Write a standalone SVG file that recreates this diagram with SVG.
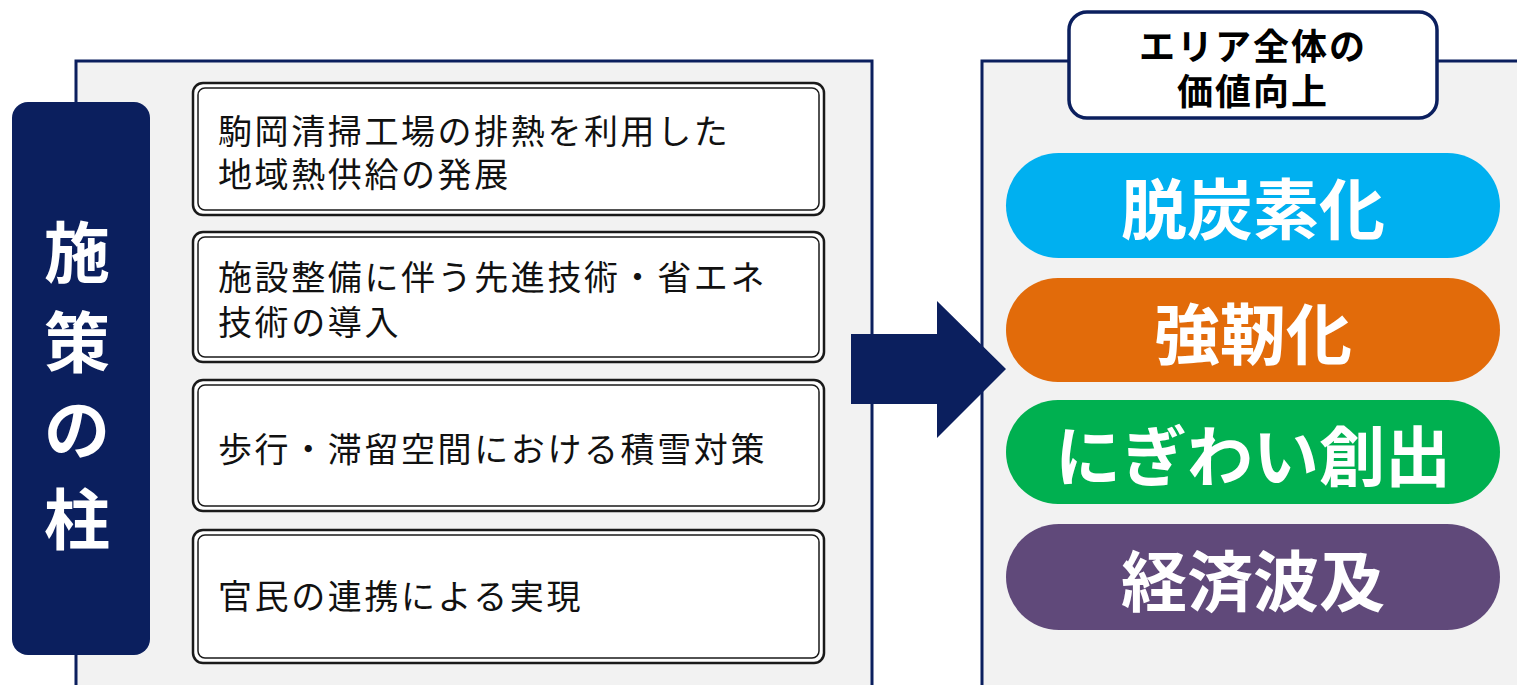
<svg xmlns="http://www.w3.org/2000/svg" width="1517" height="685" viewBox="0 0 1517 685">
<style>
.panel{fill:#f2f2f2;stroke:#0b1f5e;stroke-width:3}
.outer{fill:#fff;stroke:#1a1a1a;stroke-width:2.5}
.inner{fill:none;stroke:#1a1a1a;stroke-width:1.5}
.bt{font-family:"Noto Sans CJK JP","Noto Sans",sans-serif;font-size:34px;letter-spacing:2.6px;fill:#111;dominant-baseline:central}
.pt{font-family:"Noto Sans CJK JP","Noto Sans",sans-serif;font-size:66px;font-weight:bold;fill:#fff;text-anchor:middle;dominant-baseline:central}
.vt{font-family:"Noto Sans CJK JP","Noto Sans",sans-serif;font-size:66px;font-weight:bold;fill:#fff;text-anchor:middle;dominant-baseline:central}
.tt{font-family:"Noto Sans CJK JP","Noto Sans",sans-serif;font-size:36px;letter-spacing:2px;font-weight:bold;fill:#000;text-anchor:middle;dominant-baseline:central}
</style>
<rect width="1517" height="685" fill="#fff"/>
<g id="left-panel">
<rect class="panel" x="76" y="61" width="796" height="640"/>
</g>
<g id="right-panel">
<rect class="panel" x="982" y="61" width="560" height="640"/>
</g>
<g id="pillar">
<rect x="12" y="102" width="138" height="553" rx="16" fill="#0b1f5e"/>
<text class="vt" x="77" y="248">施</text>
<text class="vt" x="77" y="338">策</text>
<text class="vt" x="77" y="425">の</text>
<text class="vt" x="77" y="515">柱</text>
</g>
<g id="measure1">
<rect class="outer" x="193" y="83" width="631" height="132" rx="10"/>
<rect class="inner" x="198" y="88" width="621" height="122" rx="7"/>
<text class="bt" x="218"><tspan x="218" y="129">駒岡清掃工場の排熱を利用した</tspan><tspan x="218" y="172">地域熱供給の発展</tspan></text>
</g>
<g id="measure2">
<rect class="outer" x="193" y="232" width="631" height="130" rx="10"/>
<rect class="inner" x="198" y="237" width="621" height="120" rx="7"/>
<text class="bt" x="218"><tspan x="218" y="275">施設整備に伴う先進技術・省エネ</tspan><tspan x="218" y="320">技術の導入</tspan></text>
</g>
<g id="measure3">
<rect class="outer" x="193" y="380" width="631" height="131" rx="10"/>
<rect class="inner" x="198" y="385" width="621" height="121" rx="7"/>
<text class="bt" x="218" y="447">歩行・滞留空間における積雪対策</text>
</g>
<g id="measure4">
<rect class="outer" x="193" y="530" width="631" height="133" rx="10"/>
<rect class="inner" x="198" y="535" width="621" height="123" rx="7"/>
<text class="bt" x="218" y="594">官民の連携による実現</text>
</g>
<g id="connectors">
<path d="M851 334 H937 V301 L1006 369 L937 438 V404 H851 Z" fill="#0b1f5e"/>
</g>
<g id="title">
<rect x="1069" y="12" width="368" height="106" rx="18" fill="#fff" stroke="#0b1f5e" stroke-width="3.5"/>
<text class="tt" x="1253" y="44">エリア全体の</text>
<text class="tt" x="1253" y="89">価値向上</text>
</g>
<g id="goal1">
<rect x="1006" y="153" width="494" height="105" rx="52.5" fill="#00b0f0"/>
<text class="pt" x="1253" y="205">脱炭素化</text>
</g>
<g id="goal2">
<rect x="1006" y="278" width="494" height="104" rx="52" fill="#e26b0a"/>
<text class="pt" x="1253" y="330">強靭化</text>
</g>
<g id="goal3">
<rect x="1006" y="400" width="494" height="104" rx="52" fill="#00b050"/>
<text class="pt" x="1253" y="452">にぎわい創出</text>
</g>
<g id="goal4">
<rect x="1006" y="524" width="494" height="106" rx="53" fill="#60497a"/>
<text class="pt" x="1253" y="577">経済波及</text>
</g>
</svg>
